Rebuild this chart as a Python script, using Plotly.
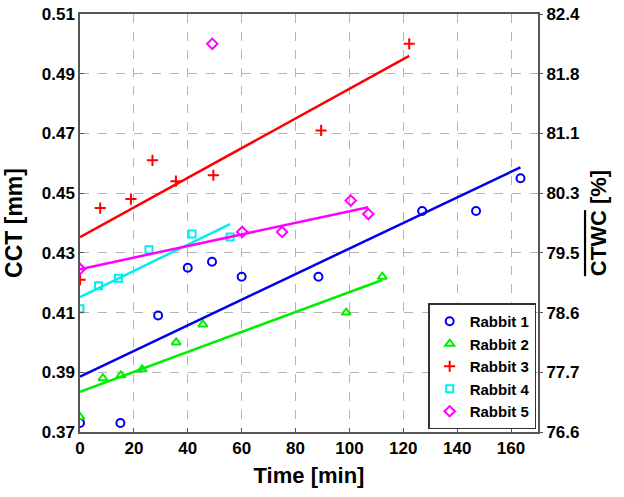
import numpy as np
import plotly.graph_objects as go

# ---- data ----
r1_t = [0, 15, 29, 40, 49, 60, 88.5, 127, 147, 163.5]
r1_cct = [0.373, 0.373, 0.409, 0.425, 0.427, 0.422, 0.422, 0.444, 0.444, 0.455]

r2_t = [0, 8.5, 15.2, 23.1, 35.7, 45.6, 98.8, 112.2]
r2_cct = [0.375, 0.388, 0.389, 0.391, 0.400, 0.406, 0.410, 0.422]

r3_t = [0, 7.5, 18.9, 26.9, 35.6, 49.5, 89.5, 122.2]
r3_cct = [0.421, 0.445, 0.448, 0.461, 0.454, 0.456, 0.471, 0.500]

r4_t = [0, 6.9, 14.3, 25.6, 41.6, 55.7]
r4_cct = [0.4113, 0.419, 0.4215, 0.431, 0.4363, 0.4353]

r5_t = [0, 49.1, 60.2, 75, 100.5, 107]
r5_cct = [0.4246, 0.500, 0.437, 0.437, 0.4475, 0.443]
r5_fit_exclude = [1]  # outlier not used in the regression line

names = ["Rabbit 1", "Rabbit 2", "Rabbit 3", "Rabbit 4", "Rabbit 5"]
series = [(r1_t, r1_cct, []), (r2_t, r2_cct, []), (r3_t, r3_cct, []),
          (r4_t, r4_cct, []), (r5_t, r5_cct, r5_fit_exclude)]

left_ticks = [0.37, 0.39, 0.41, 0.43, 0.45, 0.47, 0.49, 0.51]
left_ticktext = ["0.37", "0.39", "0.41", "0.43", "0.45", "0.47", "0.49", "0.51"]
right_ticktext = ["76.6", "77.7", "78.6", "79.5", "80.3", "81.1", "81.8", "82.4"]
x_ticks = [0, 20, 40, 60, 80, 100, 120, 140, 160]

colors = ["#0000EE", "#00EE00", "#FF0000", "#00EEEE", "#FF00FF"]
symbols = ["circle-open", "triangle-up-open", "cross-thin-open", "square-open", "diamond-open"]
sizes = [8, 8, 8, 7, 8]

fig = go.Figure()

for (t, c, excl), name, col, sym, sz in zip(series, names, colors, symbols, sizes):
    fig.add_trace(go.Scatter(x=t, y=c, mode="markers", name=name,
                             marker=dict(symbol=sym, size=sz, color=col,
                                         line=dict(width=2, color=col))))

for (t, c, excl), col in zip(series, colors):
    keep = [i for i in range(len(t)) if i not in excl]
    tx = np.array(t)[keep]
    cy = np.array(c)[keep]
    k, b = np.polyfit(tx, cy, 1)
    xs = np.array([min(t), max(t)])
    fig.add_trace(go.Scatter(x=xs, y=k * xs + b, mode="lines", showlegend=False,
                             line=dict(color=col, width=2.5), hoverinfo="skip"))

# invisible trace to anchor the right axis
fig.add_trace(go.Scatter(x=[0], y=[0.37], yaxis="y2", mode="markers",
                         marker=dict(opacity=0), showlegend=False, hoverinfo="skip"))

font_family = "Liberation Sans, Arial, sans-serif"
tickfont = dict(family=font_family, size=17, color="black", weight="bold")
titlefont = dict(family=font_family, size=22, color="black", weight="bold")
ytitlefont = dict(family=font_family, size=23, color="black", weight="bold")

fig.update_layout(
    width=624, height=497,
    margin=dict(l=80, r=86, t=14, b=65),
    paper_bgcolor="white", plot_bgcolor="white",
    showlegend=True,
    legend=dict(x=0.996, y=0.006, xanchor="right", yanchor="bottom",
                bgcolor="white", bordercolor="#333333", borderwidth=1.5,
                font=dict(family=font_family, size=15, color="black", weight="bold"),
                tracegroupgap=0),
    xaxis=dict(range=[0, 170], tickvals=x_ticks, tickfont=tickfont, automargin=False,
               title=dict(text="Time [min]", font=titlefont, standoff=10),
               showgrid=True, gridcolor="#b4b4b4", griddash="dash", gridwidth=1,
               showline=True, linecolor="#555555", linewidth=1.5, mirror=True,
               ticks="inside", ticklen=4, tickcolor="#555555", zeroline=False),
    yaxis=dict(range=[0.37, 0.51], tickvals=left_ticks, ticktext=left_ticktext,
               tickfont=tickfont, automargin=False,
               title=dict(text="CCT [mm]", font=ytitlefont, standoff=13),
               showgrid=True, gridcolor="#b4b4b4", griddash="dash", gridwidth=1,
               showline=True, linecolor="#555555", linewidth=1.5, mirror=True,
               ticks="inside", ticklen=4, tickcolor="#555555", zeroline=False),
    yaxis2=dict(range=[0.37, 0.51], overlaying="y", side="right", automargin=False,
                tickvals=left_ticks, ticktext=right_ticktext, tickfont=tickfont,
                title=dict(text="<span style='text-decoration:overline'>CTWC</span> [%]",
                           font=titlefont, standoff=11),
                showgrid=False, ticks="outside", ticklen=4, tickcolor="#555555",
                showline=False, zeroline=False),
)

fig.write_html("out.html", config={"displayModeBar": False},
               post_script="document.body.style.margin='0';")
